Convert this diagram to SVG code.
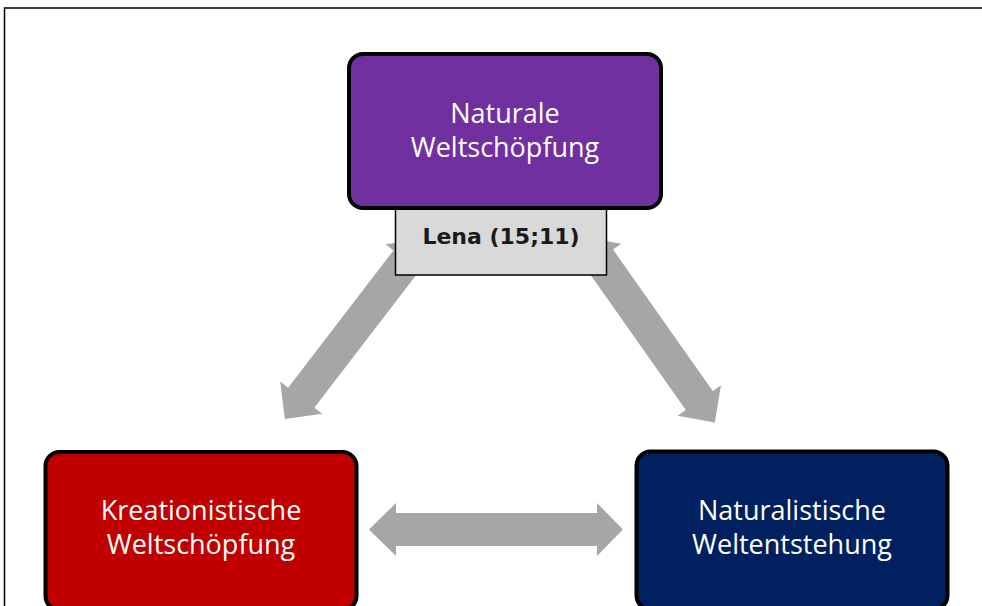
<svg xmlns="http://www.w3.org/2000/svg" width="982" height="606" viewBox="0 0 982 606">
  <style>
    .node { stroke: #000; stroke-width: 4; }
    .lbl { font-family: "Open Sans", "Noto Sans", sans-serif; font-size: 27px; fill: #fff; text-anchor: middle; }
    .arrow { fill: #A6A6A6; }
    .tag { font-family: "DejaVu Sans", "Liberation Sans", sans-serif; font-size: 22px; font-weight: bold; fill: #1a1a1a; text-anchor: middle; }
  </style>
  <defs>
    <polygon id="dbl227" points="0,0 27,-26.5 27,-16.5 200,-16.5 200,-26.5 227,0 200,26.5 200,16.5 27,16.5 27,26.5"/>
  </defs>
  <rect x="4.5" y="8" width="990" height="620" fill="#fff" stroke="#000" stroke-width="1.5"/>
  <g id="connectors" class="arrow">
    <polygon points="369,529.5 396,503 396,513 597,513 597,503 623,529.5 597,556 597,546 396,546 396,556"/>
    <use href="#dbl227" transform="translate(423,239) rotate(127.5)"/>
    <use href="#dbl227" transform="translate(584,237) rotate(54.8)"/>
  </g>
  <g id="tag">
    <rect x="395.5" y="209" width="211" height="66" fill="#D9D9D9" stroke="#000" stroke-width="1.5"/>
    <text class="tag" x="501" y="244">Lena (15;11)</text>
  </g>
  <g id="naturale">
    <rect class="node" x="349" y="54" width="312" height="154" rx="14" fill="#7030A0"/>
    <text class="lbl" x="505" y="123">Naturale</text>
    <text class="lbl" x="505" y="157">Weltschöpfung</text>
  </g>
  <g id="kreationistische">
    <rect class="node" x="45.5" y="452" width="311" height="158" rx="14" fill="#C00000"/>
    <text class="lbl" x="201" y="520">Kreationistische</text>
    <text class="lbl" x="201" y="554">Weltschöpfung</text>
  </g>
  <g id="naturalistische">
    <rect class="node" x="636.5" y="451.5" width="311" height="158" rx="14" fill="#002060"/>
    <text class="lbl" x="792" y="520">Naturalistische</text>
    <text class="lbl" x="792" y="554">Weltentstehung</text>
  </g>
</svg>
